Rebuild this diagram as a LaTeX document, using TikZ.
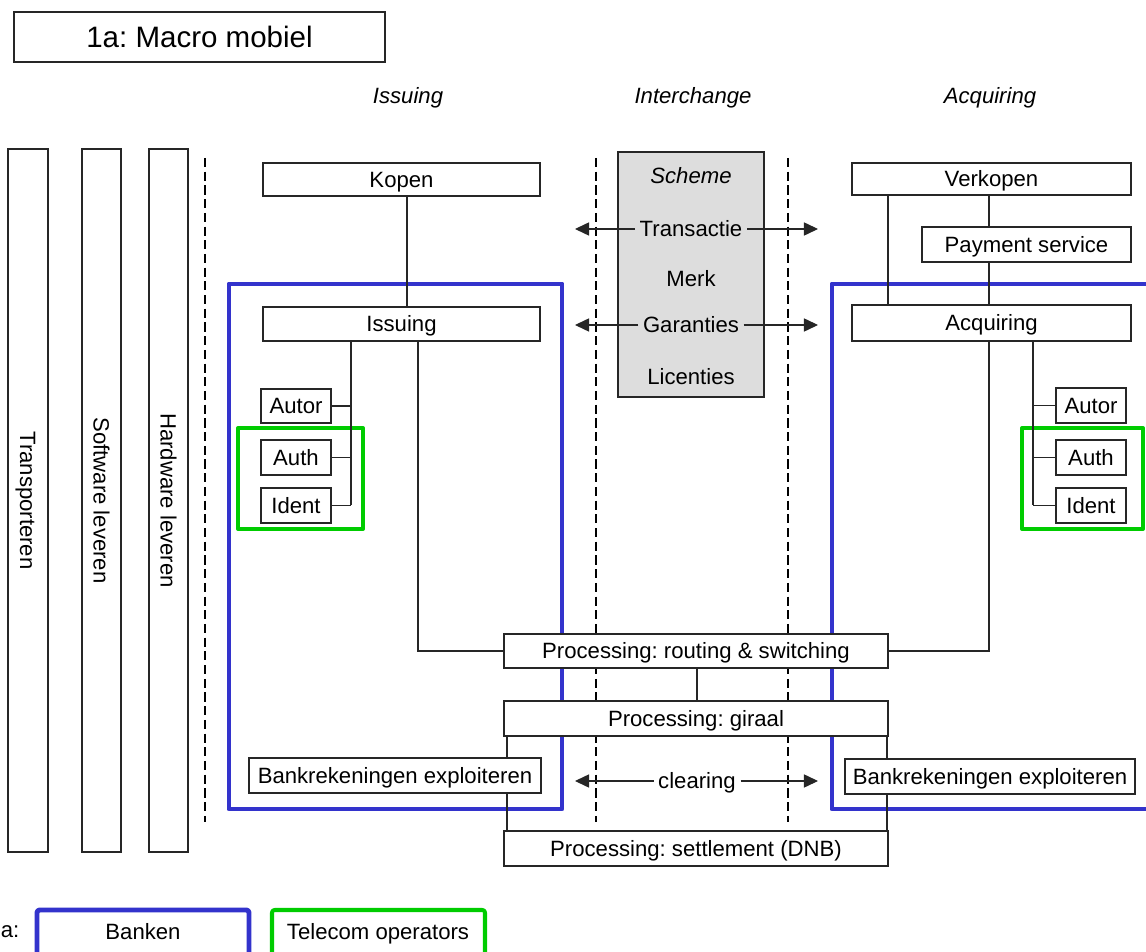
\documentclass[tikz,border=0pt]{standalone}
\usepackage{fontspec}
\setmainfont{Liberation Sans}
\usetikzlibrary{arrows.meta,calc}
\definecolor{bankblue}{RGB}{51,51,204}
\definecolor{telgreen}{RGB}{0,204,0}
\definecolor{schemegray}{RGB}{221,221,221}
\newcommand\mainsize{\fontsize{12.6}{15}\selectfont}
\newcommand\titlesize{\fontsize{16.8}{20}\selectfont}
\frenchspacing

\begin{document}
\begin{tikzpicture}[x=0.02cm,y=-0.02cm,
  sz/.style 2 args={minimum width=#1*0.02cm, minimum height=#2*0.02cm},
  box/.style={draw=black!85, line width=0.7pt, fill=white, inner sep=0pt,
    font=\mainsize, text height=9pt, text depth=0pt},
  lbl/.style={inner sep=2.5pt, font=\mainsize, text height=9pt, text depth=0pt},
  hdr/.style={inner sep=0pt, font=\mainsize\itshape},
  conn/.style={draw=black!85, line width=0.6pt},
  arr/.style={conn, -{Triangle[length=8pt,width=7.5pt]}},
  divider/.style={line width=1.4pt, dash pattern=on 5.2pt off 2.6pt},
  bankframe/.style={draw=bankblue, line width=2.8pt, line join=round},
  telframe/.style={draw=telgreen, line width=2.3pt, line join=round},
]
\useasboundingbox (0,0) rectangle (1146,952);
\clip (0,0) rectangle (1146,952);

% column positions used by the connectors
\coordinate (xKI) at (407,0);
\coordinate (xIT) at (351,0);
\coordinate (xIR) at (418,0);
\coordinate (xVA) at (888,0);
\coordinate (xAR) at (989,0);
\coordinate (xAT) at (1033,0);
\coordinate (xRG) at (697,0);
\coordinate (xSL) at (507,0);
\coordinate (xSR) at (887,0);

% title
\node[box, sz={371}{50}, font=\titlesize, text height=12pt] (title) at (199.5,37) {1a: Macro mobiel};

% column headers
\node[hdr] (hIss) at (408,98) {Issuing};
\node[hdr] (hInt) at (693,98) {Interchange};
\node[hdr] (hAcq) at (990,98) {Acquiring};

% vertical supporting roles
\node[box, sz={703}{40}, rotate=-90] (trans) at (28,500.5) {Transporteren};
\node[box, sz={703}{39}, rotate=-90] (soft) at (101.5,500.5) {Software leveren};
\node[box, sz={703}{39}, rotate=-90] (hard) at (168.5,500.5) {Hardware leveren};

% dashed dividers
\draw[divider] (205,158) -- (205,822);
\draw[divider] (596,158) -- (596,822);
\draw[divider] (788,158) -- (788,822);

% bank domains
\draw[bankframe] (229,284) rectangle (562,809);
\draw[bankframe] (1152,284) -- (832,284) -- (832,809) -- (1152,809);

% telecom domains
\draw[telframe] (238,428) rectangle (363,529);
\draw[telframe] (1022,428) rectangle (1143,529);

% scheme
\node[box, sz={146}{245}, fill=schemegray] (scheme) at (691,274.5) {};
\node[lbl, font=\mainsize\itshape] (tScheme) at (691,176) {Scheme};
\node[lbl] (tTrans) at (691,229) {Transactie};
\node[lbl] (tMerk) at (691,279) {Merk};
\node[lbl] (tGar) at (691,325) {Garanties};
\node[lbl] (tLic) at (691,377) {Licenties};

% issuing side
\node[box, sz={277}{33}] (kopen) at (401.5,179.5) {Kopen};
\node[box, sz={277}{34}] (issuing) at (401.5,324) {Issuing};
\node[box, sz={70}{34}] (autor) at (296,406) {Autor};
\node[box, sz={70}{35}] (auth) at (296,457.5) {Auth};
\node[box, sz={70}{35}] (ident) at (296,505.5) {Ident};

% acquiring side
\node[box, sz={279}{32}] (verkopen) at (991.5,179) {Verkopen};
\node[box, sz={209}{35}] (payment) at (1026.5,244.5) {Payment service};
\node[box, sz={279}{36}] (acquiring) at (991.5,323) {Acquiring};
\node[box, sz={70}{35}] (autorR) at (1091,405.5) {Autor};
\node[box, sz={70}{35}] (authR) at (1091,457.5) {Auth};
\node[box, sz={70}{35}] (identR) at (1091,505.5) {Ident};

% processing
\node[box, sz={384}{34}] (routing) at (696,651) {Processing: routing \& switching};
\node[box, sz={384}{35}] (giraal) at (696,718.5) {Processing: giraal};
\node[box, sz={384}{35}] (settle) at (696,848.5) {Processing: settlement (DNB)};
\node[box, sz={292}{35}] (bankL) at (395,775.5) {Bankrekeningen exploiteren};
\node[box, sz={290}{35}] (bankR) at (990,776.5) {Bankrekeningen exploiteren};
\node[lbl] (tClear) at (697,781) {clearing};

% arrow ends
\coordinate (tipTL) at (575,229);
\coordinate (tipTR) at (818,229);
\coordinate (tipGL) at (575,325);
\coordinate (tipGR) at (818,325);
\coordinate (tipCL) at (575,781);
\coordinate (tipCR) at (818,781);

\draw[arr] (tTrans.west) -- (tipTL);
\draw[arr] (tTrans.east) -- (tipTR);
\draw[arr] (tGar.west) -- (tipGL);
\draw[arr] (tGar.east) -- (tipGR);
\draw[arr] (tClear.west) -- (tipCL);
\draw[arr] (tClear.east) -- (tipCR);

% issuing connectors
\draw[conn] (kopen.south -| xKI) -- (issuing.north -| xKI);
\draw[conn] (issuing.south -| xIT) -- (ident.east -| xIT);
\draw[conn] (autor.east) -- (autor.east -| xIT);
\draw[conn] (auth.east) -- (auth.east -| xIT);
\draw[conn] (ident.east) -- (ident.east -| xIT);
\draw[conn] (issuing.south -| xIR) |- (routing.west);

% acquiring connectors
\draw[conn] (verkopen.south -| xVA) -- (acquiring.north -| xVA);
\draw[conn] (verkopen.south -| xAR) -- (payment.north -| xAR);
\draw[conn] (payment.south -| xAR) -- (acquiring.north -| xAR);
\draw[conn] (acquiring.south -| xAR) |- (routing.east);
\draw[conn] (acquiring.south -| xAT) -- (identR.west -| xAT);
\draw[conn] (autorR.west) -- (autorR.west -| xAT);
\draw[conn] (authR.west) -- (authR.west -| xAT);
\draw[conn] (identR.west) -- (identR.west -| xAT);

% processing connectors
\draw[conn] (routing.south -| xRG) -- (giraal.north -| xRG);
\draw[conn] (giraal.south -| xSL) -- (bankL.north -| xSL);
\draw[conn] (bankL.south -| xSL) -- (settle.north -| xSL);
\draw[conn] (giraal.south -| xSR) -- (bankR.north -| xSR);
\draw[conn] (bankR.south -| xSR) -- (settle.north -| xSR);

% legend
\node[inner sep=0pt, font=\mainsize, anchor=west] (legend) at (0.5,932) {a:};
\draw[bankframe, rounded corners=1.5pt] (37,990) -- (37,910) -- (249,910) -- (249,990);
\draw[telframe, rounded corners=1.5pt] (272,990) -- (272,910) -- (485,910) -- (485,990);
\node[lbl] (lgBank) at (143,932) {Banken};
\node[lbl] (lgTel) at (378,932) {Telecom operators};
\end{tikzpicture}
\end{document}
